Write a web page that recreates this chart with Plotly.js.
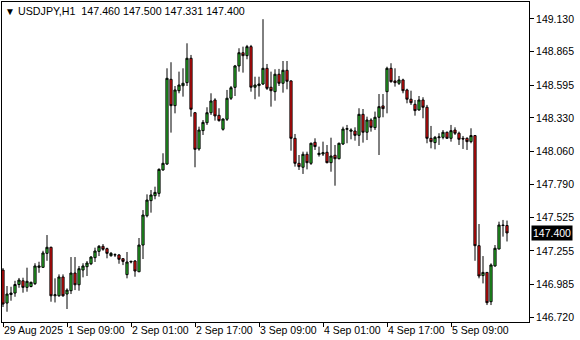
<!DOCTYPE html>
<html>
<head>
<meta charset="utf-8">
<script src="https://cdn.plot.ly/plotly-3.0.1.min.js"></script>
<style>html,body{margin:0;padding:0;background:#fff;}#chart{width:580px;height:340px;}</style>
</head>
<body>
<div id="chart"></div>
<script>
// USDJPY H1 candles, first bar 29 Aug 2025 17:00, hourly, weekend skipped
const openP = [147.100,146.833,146.902,146.914,146.983,147.013,146.960,146.967,146.990,147.122,
147.122,147.235,147.284,146.892,146.892,147.044,146.906,146.933,147.076,146.981,
147.100,147.127,147.151,147.200,147.251,147.292,147.273,147.216,147.222,147.222,
147.192,147.063,147.165,147.173,147.086,147.302,147.539,147.661,147.701,147.720,
147.909,147.957,148.642,148.429,148.550,148.590,148.615,148.812,148.372,148.079,
148.227,148.291,148.372,148.475,148.351,148.238,148.319,148.489,148.577,148.750,
148.857,148.833,148.906,148.578,148.591,148.604,148.731,148.578,148.542,148.683,
148.610,148.715,148.629,148.165,147.963,147.931,148.036,147.963,148.133,148.033,
148.038,148.052,147.968,148.028,148.000,148.119,148.238,148.222,148.224,148.189,
148.359,148.214,148.313,148.251,148.335,148.427,148.542,148.731,148.629,148.610,
148.637,148.556,148.481,148.440,148.394,148.475,148.416,148.165,148.130,148.170,
148.173,148.214,148.165,148.232,148.206,148.165,148.165,148.138,148.187,147.297,
147.055,147.081,146.844,147.133,147.270,147.464,147.460];
const highP = [147.116,146.971,146.965,147.013,147.036,147.038,147.119,147.006,147.155,147.167,
147.256,147.383,147.289,147.033,147.065,147.065,146.952,147.205,147.205,147.133,
147.155,147.173,147.213,147.281,147.302,147.310,147.281,147.246,147.235,147.230,
147.195,147.246,147.175,147.181,147.359,147.585,147.712,147.747,147.774,147.922,
148.044,148.731,148.780,148.588,148.704,148.731,148.933,148.839,148.378,148.259,
148.313,148.416,148.529,148.489,148.408,148.327,148.556,148.588,148.758,148.893,
148.906,148.920,148.920,148.663,148.663,149.128,148.766,148.704,148.723,148.726,
148.790,148.790,148.634,148.200,148.030,148.057,148.057,148.130,148.165,148.098,
148.138,148.111,148.170,148.111,148.130,148.259,148.273,148.246,148.254,148.408,
148.402,148.340,148.327,148.381,148.523,148.523,148.744,148.772,148.731,148.669,
148.647,148.566,148.550,148.475,148.507,148.497,148.435,148.265,148.184,148.206,
148.232,148.219,148.273,148.254,148.219,148.184,148.173,148.246,148.192,147.472,
147.213,147.084,147.154,147.302,147.491,147.505,147.500];
const lowP = [146.801,146.763,146.852,146.884,146.957,146.917,146.925,146.960,146.979,147.078,
147.119,147.175,146.844,146.838,146.884,146.884,146.785,146.906,146.938,146.933,
147.041,147.052,147.140,147.165,147.213,147.256,147.195,147.208,147.205,147.151,
147.140,147.033,147.154,147.046,147.084,147.189,147.526,147.564,147.672,147.693,
147.903,147.950,148.211,148.367,148.529,148.502,148.588,148.340,147.931,148.065,
148.192,148.273,148.354,148.308,148.300,148.227,148.305,148.475,148.507,148.704,
148.696,148.804,148.542,148.481,148.502,148.596,148.556,148.421,148.469,148.588,
148.534,148.561,148.065,147.936,147.909,147.877,147.914,147.950,148.071,148.017,
148.022,147.963,147.895,147.782,147.995,148.111,148.125,148.157,148.146,148.103,
148.130,148.151,148.219,148.232,148.030,148.335,148.367,148.615,148.583,148.596,
148.529,148.448,148.435,148.348,148.389,148.327,148.125,148.084,148.076,148.111,
148.157,148.162,148.138,148.192,148.111,148.079,148.071,148.125,147.175,147.033,
146.992,146.817,146.817,147.127,147.268,147.370,147.331];
const closeP = [146.825,146.906,146.914,146.983,147.019,146.960,147.009,147.001,147.133,147.133,
147.238,147.284,146.892,146.900,147.044,146.892,146.938,147.076,146.981,147.111,
147.133,147.157,147.205,147.254,147.292,147.268,147.235,147.235,147.224,147.187,
147.170,147.165,147.170,147.092,147.302,147.545,147.666,147.707,147.728,147.914,
147.963,148.650,148.429,148.556,148.596,148.610,148.812,148.400,148.076,148.232,
148.294,148.372,148.467,148.346,148.308,148.321,148.489,148.574,148.750,148.857,
148.833,148.906,148.578,148.596,148.604,148.731,148.569,148.550,148.683,148.610,
148.715,148.626,148.165,147.963,147.936,148.036,147.968,148.125,148.098,148.044,
148.049,147.968,148.022,148.000,148.125,148.240,148.243,148.232,148.189,148.359,
148.214,148.313,148.254,148.335,148.421,148.405,148.731,148.623,148.615,148.637,
148.550,148.481,148.453,148.389,148.475,148.416,148.165,148.138,148.173,148.176,
148.214,148.165,148.227,148.206,148.157,148.160,148.138,148.187,147.297,147.052,
147.081,146.836,147.141,147.276,147.464,147.460,147.400];

const yTickVals = [149.130,148.865,148.595,148.330,148.060,147.790,147.525,147.255,146.985,146.720];
const xTickIdx = [0,16,32,48,64,80,96,112];
const xTickText = ["29 Aug 2025","1 Sep 09:00","2 Sep 01:00","2 Sep 17:00","3 Sep 09:00","4 Sep 01:00","4 Sep 17:00","5 Sep 09:00"];
const symbolTitle = "USDJPY,H1";
const lastOHLC = [147.460,147.500,147.331,147.400];

// hourly bar times (weekend skipped)
const times = [];
let t = Date.UTC(2025,7,29,17,0);
while (times.length < openP.length) {
  const d = new Date(t);
  const wd = d.getUTCDay();
  if (wd !== 0 && wd !== 6) {
    const p = n => String(n).padStart(2,'0');
    times.push(d.getUTCFullYear()+'-'+p(d.getUTCMonth()+1)+'-'+p(d.getUTCDate())+' '+p(d.getUTCHours())+':00');
  }
  t += 3600000;
}

const trace = {
  type:'candlestick', x: times, open: openP, high: highP, low: lowP, close: closeP,
  increasing:{line:{color:'#000000',width:1}, fillcolor:'#2ECC2E'},
  decreasing:{line:{color:'#000000',width:1}, fillcolor:'#FF1010'},
  whiskerwidth:0, hoverinfo:'skip'
};

const F = "'Liberation Sans', Arial, sans-serif";
const layout = {
  width:580, height:340,
  margin:{l:2, r:51, t:2, b:18},
  paper_bgcolor:'#ffffff', plot_bgcolor:'#ffffff',
  showlegend:false, boxgap:0.22,
  font:{family:F, size:10.5, color:'#000'},
  xaxis:{
    type:'category', range:[-0.25, 131.5], rangeslider:{visible:false},
    showgrid:false, zeroline:false, showline:true, linecolor:'#000', linewidth:1, mirror:true,
    ticks:'outside', ticklen:4, tickcolor:'#000', tickwidth:1,
    tickmode:'array', tickvals: xTickIdx.map(i=>times[i]), ticktext: xTickText,
    ticklabelposition:'outside right', tickangle:0, ticklabelstandoff:-2,
    tickfont:{family:F, size:10.5, color:'#000'}
  },
  yaxis:{
    side:'right', range:[146.680, 149.267], fixedrange:true,
    showgrid:false, zeroline:false, showline:true, linecolor:'#000', linewidth:1, mirror:true,
    ticks:'outside', ticklen:4, tickcolor:'#000', tickwidth:1,
    tickmode:'array', tickvals: yTickVals, ticktext: yTickVals.map(v=>v.toFixed(3)),
    tickfont:{family:F, size:10.5, color:'#000'}
  },
  annotations:[
    {xref:'paper', yref:'paper', x:0, y:1, xanchor:'left', yanchor:'top', xshift:1, yshift:-2,
     text:'▼', showarrow:false, font:{family:F, size:10, color:'#000'}},
    {xref:'paper', yref:'paper', x:0, y:1, xanchor:'left', yanchor:'top', xshift:14, yshift:-1,
     text: symbolTitle + '  ' + lastOHLC.map(v=>v.toFixed(3)).join(' '), showarrow:false,
     font:{family:F, size:10.7, color:'#000'}},
    {xref:'paper', yref:'y', x:1, y:closeP[closeP.length-1], xanchor:'left', yanchor:'middle', xshift:2,
     text: closeP[closeP.length-1].toFixed(3), showarrow:false, bgcolor:'#000000', borderpad:1,
     font:{family:F, size:10.5, color:'#ffffff'}}
  ]
};

Plotly.newPlot('chart', [trace], layout, {staticPlot:true, displayModeBar:false});
</script>
</body>
</html>
